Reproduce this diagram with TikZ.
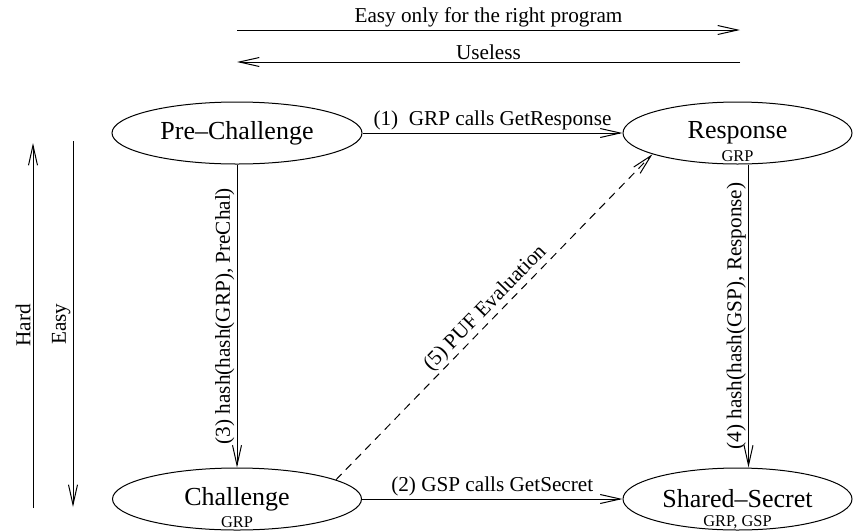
\documentclass[tikz,border=0pt]{standalone}
\usepackage{fontspec}
\setmainfont{Liberation Serif}
\usetikzlibrary{shapes.geometric,arrows.meta}

\begin{document}
\begin{tikzpicture}[x=0.5pt, y=-0.5pt,
state/.style={draw, ellipse, line width=0.5pt, minimum height=31pt, inner sep=0pt, font=\fontsize{13}{15}\selectfont},
who/.style={font=\fontsize{8.2}{9}\selectfont, inner sep=0pt},
flow/.style={line width=0.5pt, -{Straight Barb[length=10pt,width=4.5pt]}},
tag/.style={font=\fontsize{10.6}{12}\selectfont, inner sep=1pt},
]
    \useasboundingbox (0,0) rectangle (867,531);
    % the four states
    \node [state, minimum width=125pt]   (pre)    at (237,133)   {Pre–Challenge};
    \node [state, minimum width=114.5pt] (resp)   at (737.5,133) {Response};
    \node [state, minimum width=124.5pt] (chal)   at (237,499)   {Challenge};
    \node [state, minimum width=114.5pt] (secret) at (737.5,499) {Shared–Secret};
    \node [who] (resp-who)   at ([yshift=-11.5pt]resp.center)   {GRP};
    \node [who] (chal-who)   at ([yshift=-11.5pt]chal.center)   {GRP};
    \node [who] (secret-who) at ([yshift=-11.5pt]secret.center) {GRP, GSP};

    \draw [flow] (pre.east) --  node [tag, above] (t1) {(1)\ \ GRP calls GetResponse} (resp.west);
    \draw [flow] (chal.east) -- node [tag, above] (t2) {(2) GSP calls GetSecret} (secret.west);
    \draw [flow] (pre.south) -- node [tag, rotate=90, anchor=south] (t3) {(3) hash(hash(GRP), PreChal)} (chal.north);
    \draw [flow] ([xshift=5.5pt]resp.south) -- node [tag, rotate=90, anchor=south] (t4) {(4) hash(hash(GSP), Response)} ([xshift=5.5pt]secret.north);
    \draw [flow, dash pattern=on 4pt off 3pt] (chal.11) -- node [tag, sloped, above] (t5) {(5) PUF Evaluation} (resp.194);

    % direction arrows on top and at the left
    \coordinate (easy-l) at (237,30);
    \coordinate (easy-r) at (740,30);
    \coordinate (use-r)  at (740,62);
    \coordinate (use-l)  at (237,62);
    \draw [flow] (easy-l) -- node [tag, above] (t-easy) {Easy only for the right program} (easy-r);
    \draw [flow] (use-r) --  node [tag, above] (t-use) {Useless} (use-l);

    \coordinate (hard-lo) at (33,508);
    \coordinate (hard-hi) at (33,143);
    \coordinate (down-hi) at (73,141);
    \coordinate (down-lo) at (73,507);
    \draw [flow] (hard-lo) -- node [tag, rotate=90, anchor=south] (t-hard) {Hard} (hard-hi);
    \draw [flow] (down-hi) -- node [tag, rotate=90, anchor=south] (t-down) {Easy} (down-lo);
\end{tikzpicture}
\end{document}
